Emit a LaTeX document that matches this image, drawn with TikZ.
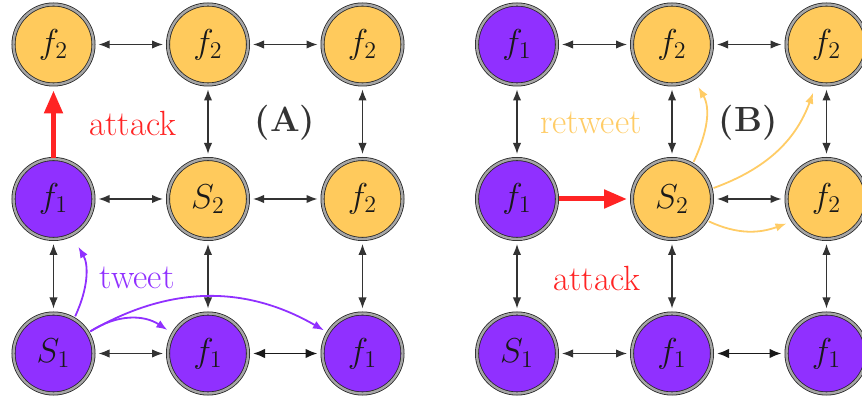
\documentclass[tikz,border=0pt]{standalone}
\usetikzlibrary{arrows.meta}
\definecolor{pur}{HTML}{9030FF}
\definecolor{org}{HTML}{FFCA5C}
\definecolor{redc}{HTML}{FF2424}
\definecolor{retw}{HTML}{FFCC66}
\definecolor{dk}{HTML}{333333}
\begin{document}
\begin{tikzpicture}[x=0.5pt,y=0.5pt,
  agent/.style={circle, minimum size=40pt, inner sep=0pt, draw=black!85, line width=0.4pt,
    double=gray!70, double distance=1.2pt, outer sep=2.5pt, text=black!90,
    font=\fontsize{17.5}{21}\selectfont},
  pnode/.style={agent, fill=pur},
  onode/.style={agent, fill=org},
  link/.style={dk, line width=0.7pt, {Latex[length=5.5pt,width=4.2pt]}-{Latex[length=5.5pt,width=4.2pt]}},
  thicklink/.style={black!90, line width=0.9pt, {Latex[length=6pt,width=4.8pt]}-{Latex[length=6pt,width=4.8pt]}},
  attackarrow/.style={redc, line width=2.5pt, -{Triangle[length=11.5pt,width=9pt]}},
  tweetarrow/.style={pur, line width=0.9pt, -{Latex[length=5.5pt,width=4.2pt]}},
  retweetarrow/.style={retw, line width=0.9pt, -{Latex[length=5.5pt,width=4.2pt]}},
  lbl/.style={font=\fontsize{17.5}{21}\selectfont, inner sep=0pt}
]
\useasboundingbox (0,0) rectangle (862,401);
% left grid
\node[onode] (L00) at (53.5,356.5) {$f_2$};
\node[onode] (L10) at (208,356.5) {$f_2$};
\node[onode] (L20) at (362.5,356.5) {$f_2$};
\node[pnode] (L01) at (53.5,202) {$f_1$};
\node[onode] (L11) at (208,202) {$S_2$};
\node[onode] (L21) at (362.5,202) {$f_2$};
\node[pnode] (L02) at (53.5,47.5) {$S_1$};
\node[pnode] (L12) at (208,47.5) {$f_1$};
\node[pnode] (L22) at (362.5,47.5) {$f_1$};
% right grid
\node[pnode] (R00) at (517,356.5) {$f_1$};
\node[onode] (R10) at (672,356.5) {$f_2$};
\node[onode] (R20) at (826.5,356.5) {$f_2$};
\node[pnode] (R01) at (517,202) {$f_1$};
\node[onode] (R11) at (672,202) {$S_2$};
\node[onode] (R21) at (826.5,202) {$f_2$};
\node[pnode] (R02) at (517,47.5) {$S_1$};
\node[pnode] (R12) at (672,47.5) {$f_1$};
\node[pnode] (R22) at (826.5,47.5) {$f_1$};
% left links
\draw[link] (L00) -- (L10);
\draw[link] (L10) -- (L20);
\draw[link] (L01) -- (L11);
\draw[link] (L11) -- (L21);
\draw[link] (L02) -- (L12);
\draw[thicklink] (L12) -- (L22);
\draw[link] (L10) -- (L11);
\draw[link] (L20) -- (L21);
\draw[link] (L01) -- (L02);
\draw[link] (L11) -- (L12);
\draw[link] (L21) -- (L22);
% right links
\draw[link] (R00) -- (R10);
\draw[link] (R10) -- (R20);
\draw[link] (R11) -- (R21);
\draw[link] (R02) -- (R12);
\draw[thicklink] (R12) -- (R22);
\draw[link] (R00) -- (R01);
\draw[link] (R10) -- (R11);
\draw[link] (R20) -- (R21);
\draw[link] (R01) -- (R02);
\draw[link] (R11) -- (R12);
\draw[link] (R21) -- (R22);
% attacks
\draw[attackarrow, shorten <=-2pt, shorten >=0.5pt] (L01) -- (L00);
\draw[attackarrow, shorten <=-1.5pt] (R01) -- (R11);
% tweets
\draw[tweetarrow, shorten <=-1pt, shorten >=4.5pt] (L02.60) to[out=65,in=-60] (L01.-63);
\draw[tweetarrow, shorten <=-1pt, shorten >=1pt] (L02.31) to[out=33,in=147] (L12.150);
\draw[tweetarrow, shorten <=-1pt] (L02.31) to[out=30,in=150] (L22.149);
% retweets
\draw[retweetarrow, shorten <=-1pt, shorten >=2.5pt] (R11.60) to[out=65,in=-60] (R10.-58);
\draw[retweetarrow, shorten <=-1pt, shorten >=2.5pt] (R11.15) to[out=20,in=-110] (R20.-105);
\draw[retweetarrow, shorten <=-1pt, shorten >=1pt] (R11.-31) to[out=-25,in=-160] (R21.-148);
% labels
\node[lbl, text=redc] (atkA) at (133,278) {attack};
\node[lbl, text=dk] (labA) at (285,278) {\textbf{(A)}};
\node[lbl, text=pur] (tw) at (137,123) {tweet};
\node[lbl, text=retw] (rtw) at (591,278) {retweet};
\node[lbl, text=dk] (labB) at (748,278) {\textbf{(B)}};
\node[lbl, text=redc] (atkB) at (597,123) {attack};
\end{tikzpicture}
\end{document}
